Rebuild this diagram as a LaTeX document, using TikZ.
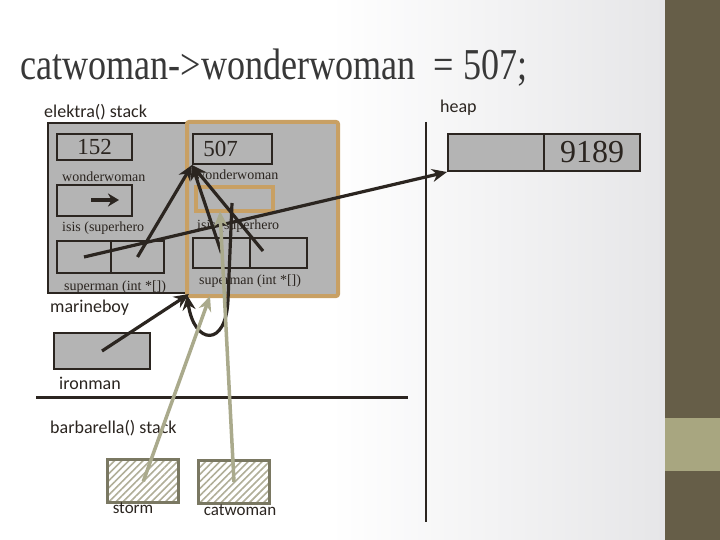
\documentclass[tikz,border=0pt]{standalone}
\usepackage{fontspec}
\setmainfont{Liberation Serif}
\newfontfamily\sansf{Carlito}
\usetikzlibrary{arrows.meta,patterns.meta,calc}
\definecolor{dk}{HTML}{2B2520}
\definecolor{boxgray}{HTML}{B4B4B4}
\definecolor{tan}{HTML}{C8A064}
\definecolor{olive}{HTML}{665E48}
\definecolor{lolive}{HTML}{A8A680}
\definecolor{larrow}{HTML}{AAAA8C}
\definecolor{hatchc}{HTML}{B0AE98}
\definecolor{hatchb}{HTML}{7A7862}
\definecolor{bggray}{HTML}{E6E6E8}
\definecolor{titlec}{HTML}{383838}
\tikzset{
  gbox/.style={draw=dk, fill=boxgray, line width=2pt, anchor=north west, inner sep=0pt},
  tbox/.style={draw=tan, fill=boxgray, line width=4pt, anchor=north west, inner sep=0pt},
  hbox/.style={draw=hatchb, line width=3pt, anchor=north west, inner sep=0pt,
    pattern={Lines[angle=45,distance=5pt,line width=1.6pt]}, pattern color=hatchc},
  lbl/.style={anchor=west, inner sep=0pt, font=\fontsize{14}{16}\selectfont, text=dk},
  slbl/.style={anchor=west, inner sep=0pt, font=\sansf\fontsize{18}{20}\selectfont, text=dk},
  num/.style={font=\fontsize{23}{26}\selectfont, text=dk},
  darr/.style={draw=dk, line width=3.2pt, -{Stealth[length=15pt,width=13pt]}},
  larr/.style={draw=larrow, line width=3.5pt, -{Stealth[length=15pt,width=13pt]}},
}
\begin{document}
\begin{tikzpicture}[x=1pt,y=-1pt]
\useasboundingbox (0,0) rectangle (720,540);
% background
\fill[white] (0,0) rectangle (330,540);
\shade[left color=white, right color=bggray] (330,0) rectangle (665,540);
\fill[olive] (665,0) rectangle (720,418);
\fill[lolive] (665,418) rectangle (720,471);
\fill[olive] (665,471) rectangle (720,540);
% title
\node[anchor=base west, inner sep=0pt, text=titlec] (title) at (20,80)
  {\scalebox{0.86}[1.05]{\fontsize{42}{48}\selectfont catwoman->wonderwoman\ \ = 507;}};
% labels
\node[slbl] (lek) at (44,112) {elektra() stack};
\node[slbl] (lheap) at (440,108) {heap};
\node[slbl] (lmar) at (50,308) {marineboy};
\node[slbl] (liron) at (59,383) {ironman};
\node[slbl] (lbar) at (50,428) {barbarella() stack};
% frames
\node[gbox, minimum width=138pt, minimum height=170pt] (ek) at (47,122) {};
\node[tbox, minimum width=151pt, minimum height=174pt, rounded corners=2pt] (ct) at (185,120) {};
% elektra struct
\node[gbox, minimum width=75pt, minimum height=26pt] (e152) at (56,133) {};
\node[num] at (e152.center) {152};
\node[lbl] (ewl) at (62,177) {wonderwoman};
\node[gbox, minimum width=75pt, minimum height=31pt] (ewp) at (56,184) {};
\coordinate (ewa) at (91,200);
\coordinate (ewb) at (119,200);
\draw[dk, line width=4pt, -{Stealth[length=11pt,width=13pt]}] (ewa) -- (ewb);
\node[lbl] (eil) at (62,228) {isis (superhero};
\node[gbox, minimum width=54pt, minimum height=32pt] (eisA) at (56,240) {};
\node[gbox, minimum width=53pt, minimum height=32pt] (eisB) at (110,240) {};
\node[lbl] (esl) at (64,287) {superman (int *[])};
% catwoman struct
\node[gbox, minimum width=79pt, minimum height=30pt] (c507) at (192,133) {};
\node[num] at ($(c507.center)+(-12,0)$) {507};
\node[lbl] (cwl) at (195,175) {wonderwoman};
\node[tbox, minimum width=77pt, minimum height=24pt] (cwp) at (194,185) {};
\node[lbl] (cil) at (197,226) {isis (superhero};
\node[gbox, minimum width=57pt, minimum height=30pt] (cisA) at (192,237) {};
\node[gbox, minimum width=57pt, minimum height=30pt] (cisB) at (249,237) {};
\node[lbl] (csl) at (199,281) {superman (int *[])};
% heap
\node[gbox, minimum width=96pt, minimum height=37pt] (heapA) at (447,133) {};
\node[gbox, minimum width=96pt, minimum height=37pt] (heapB) at (543,133) {};
\node[font=\fontsize{32}{36}\selectfont, text=dk] at (heapB.center) {9189};
% divider lines
\coordinate (vtop) at (426,122);
\coordinate (vbot) at (426,522);
\draw[dk, line width=2.5pt] (vtop) -- (vbot);
\coordinate (hl) at (36,397);
\coordinate (hr) at (408,397);
\draw[dk, line width=3pt] (hl) -- (hr);
% marineboy, barbarella boxes
\node[gbox, minimum width=96pt, minimum height=36pt] (mb) at (53,332) {};
\node[hbox, minimum width=71pt, minimum height=43pt] (storm) at (107,459) {};
\node[hbox, minimum width=71pt, minimum height=43pt] (cat) at (197,459) {};
\node[anchor=north, inner sep=0pt, font=\sansf\fontsize{17}{20}\selectfont, text=dk] (lstorm) at (133,503) {storm};
\node[anchor=north, inner sep=0pt, font=\sansf\fontsize{17}{20}\selectfont, text=dk] (lcat) at (240,505) {catwoman};
% dark arrows
\coordinate (cisBs) at (263,251);
\coordinate (loopS) at (232,203);
\coordinate (loopE) at (187,295);
\coordinate (mbE) at (189,294);
\draw[darr] (eisA.center) -- (heapA.south west);
\draw[darr] (eisB.center) -- (c507.south west);
\draw[darr] (cisA.center) -- (c507.south west);
\draw[darr] (cisBs) -- (c507.south west);
\draw[darr] (mb.center) -- (mbE);
\draw[darr] (loopS) -- (228,300) .. controls (226,348) and (194,345) .. (loopE);
% light arrows
\coordinate (stE) at (210,296);
\coordinate (caE) at (220,211);
\draw[larr] (storm.center) -- (stE);
\draw[larr] (cat.center) -- (caE);
\end{tikzpicture}
\end{document}
